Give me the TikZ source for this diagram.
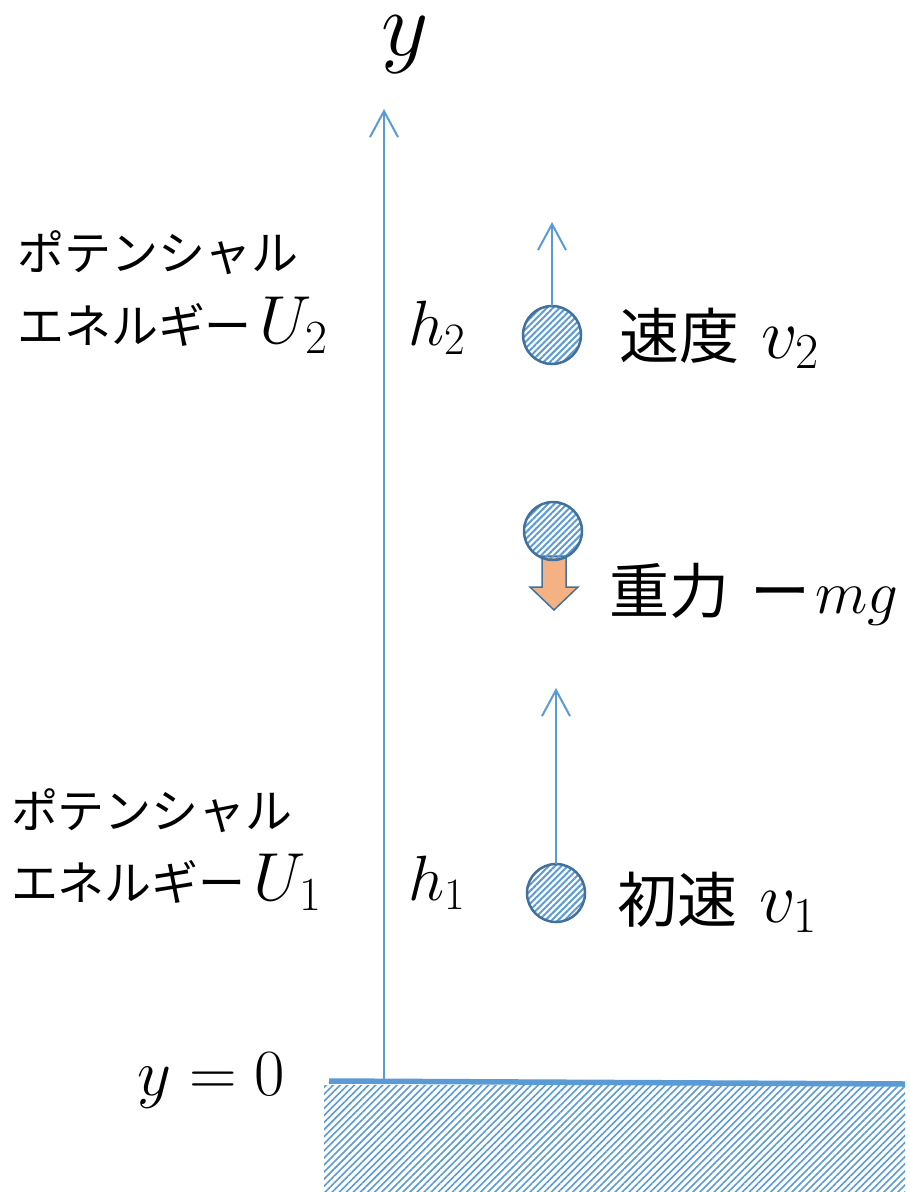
\RequirePackage{fix-cm}
\documentclass[tikz,border=0pt]{standalone}
\usepackage{fontspec}
\newfontfamily\jp{Noto Sans CJK JP}
\usetikzlibrary{arrows.meta,patterns.meta}
\definecolor{ablue}{HTML}{5B9BD5}
\definecolor{bedge}{HTML}{41719C}
\definecolor{gorange}{HTML}{F4B183}
\newcommand{\fsz}[1]{\fontsize{#1}{#1}\selectfont}
\begin{document}
\begin{tikzpicture}[x=1pt,y=-1pt,
  every node/.style={inner sep=0pt,outer sep=0pt},
  vec/.style={draw=ablue,line width=2pt,-{Straight Barb[length=26pt,width=28pt]}},
  ball/.style={circle,minimum size=58pt,draw=bedge,line width=2.5pt,
    pattern={Lines[angle=45,distance=4.5pt,line width=2pt]},pattern color=ablue},
  leftlbl/.style={anchor=base west,font=\jp\fsz{47}},
  rightlbl/.style={anchor=base west,font=\jp\fsz{60}},
  mathlbl/.style={anchor=base west}]
\useasboundingbox (0,0) rectangle (910,1192);
\fill[white] (0,0) rectangle (910,1192);
% ground
\fill[pattern={Lines[angle=45,distance=5pt,line width=1.6pt]},pattern color=ablue] (324,1085) rectangle (905,1192);
\coordinate (gl) at (329,1081);
\coordinate (gr) at (905,1084);
\draw[ablue,line width=5.5pt] (gl) -- (gr);
% axis
\coordinate (orig) at (384,1081);
\coordinate (ytip) at (384,109);
\draw[vec] (orig) -- (ytip);
\node[anchor=base,text height=40pt] (ylab) at (405,55) {\fsz{92}$y$};
\node[anchor=base west] (y0) at (137,1095) {\fsz{66}$y=0$};
% left labels
\node[leftlbl] (p2a) at (17,270) {ポテンシャル};
\node[leftlbl] (p2b) at (17,343) {エネルギー\hspace{8pt}\fsz{68}$U_2$};
\node[leftlbl] (p1a) at (11,828) {ポテンシャル};
\node[leftlbl] (p1b) at (11,900) {エネルギー\hspace{8pt}\fsz{68}$U_1$};
% heights
\node[mathlbl] (h2) at (408,345) {\fsz{64}$h_2$};
\node[mathlbl] (h1) at (408,900) {\fsz{64}$h_1$};
% gravity arrow
\filldraw[fill=gorange,draw=bedge,line width=1.5pt]
  (542,556) -- (566,556) -- (566,587) -- (578,587) -- (554,610) -- (530,587) -- (542,587) -- cycle;
% balls
\node[ball] (b2) at (552,335) {};
\node[ball] (bg) at (553,531) {};
\node[ball] (b1) at (556,893) {};
\coordinate (v2tip) at (552,222);
\coordinate (v1tip) at (556,688);
\draw[vec] (b2.north) -- (v2tip);
\draw[vec] (b1.north) -- (v1tip);
% right labels
\node[rightlbl] (sp2) at (619,358) {速度\hspace{22pt}\fsz{72}$v_2$};
\node[rightlbl] (grav) at (609,613) {重力\hspace{22pt}ー\hspace{4pt}\fsz{61}$mg$};
\node[rightlbl] (sp1) at (617,922) {初速\hspace{22pt}\fsz{72}$v_1$};
\end{tikzpicture}
\end{document}
